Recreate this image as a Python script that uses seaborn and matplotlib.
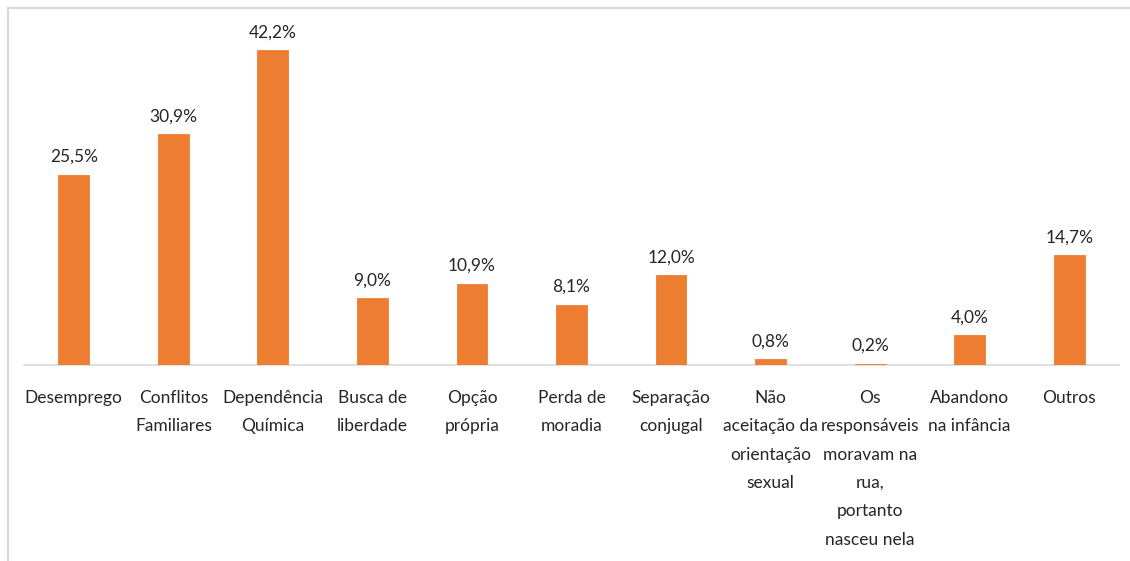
import matplotlib
matplotlib.use("Agg")
import matplotlib.pyplot as plt
import seaborn as sns
import pandas as pd
from matplotlib.lines import Line2D

categories = [
    "Desemprego",
    "Conflitos\nFamiliares",
    "Dependência\nQuímica",
    "Busca de\nliberdade",
    "Opção\nprópria",
    "Perda de\nmoradia",
    "Separação\nconjugal",
    "Não\naceitação da\norientação\nsexual",
    "Os\nresponsáveis\nmoravam na\nrua,\nportanto\nnasceu nela",
    "Abandono\nna infância",
    "Outros",
]
values = [25.5, 30.9, 42.2, 9.0, 10.9, 8.1, 12.0, 0.8, 0.2, 4.0, 14.7]
value_labels = ["25,5%", "30,9%", "42,2%", "9,0%", "10,9%", "8,1%",
                "12,0%", "0,8%", "0,2%", "4,0%", "14,7%"]

df = pd.DataFrame({"motivo": categories, "pct": values})

sns.set_theme(style="white")
plt.rcParams["font.family"] = ["Lato", "DejaVu Sans"]

W, H = 1130, 561
fig = plt.figure(figsize=(W / 100, H / 100), dpi=100)
base_y = 365
px_per_unit = 7.46
ymax = 45
top_px = base_y - ymax * px_per_unit
ax = fig.add_axes([24 / W, 1 - base_y / H, (1119 - 24) / W, (base_y - top_px) / H])

sns.barplot(data=df, x="motivo", y="pct", color="#ED7D31", width=0.31,
            saturation=1, edgecolor="#ED7D31", linewidth=0.6, ax=ax)
ax.set_ylim(0, ymax)
ax.set_xlim(-0.5, len(categories) - 0.5)

for i, (v, lab) in enumerate(zip(values, value_labels)):
    ax.annotate(lab, (i, v), xytext=(0, 7), textcoords="offset points",
                ha="center", va="bottom", fontsize=12.5, color="#262626",
                annotation_clip=False)

for s in ["top", "right", "left"]:
    ax.spines[s].set_visible(False)
ax.spines["bottom"].set_color("#D9D9D9")
ax.spines["bottom"].set_linewidth(1.2)
ax.spines["bottom"].set_zorder(0)
ax.set_yticks([])
ax.set_xlabel("")
ax.set_ylabel("")
ax.tick_params(axis="x", length=0, pad=18)
for t in ax.get_xticklabels():
    t.set_fontsize(12.5)
    t.set_color("#262626")
    t.set_linespacing(1.95)
    t.set_ha("center")
    t.set_va("top")

# outer frame lines (top and left)
fig.add_artist(Line2D([8 / W, 1], [1 - 8 / H, 1 - 8 / H], color="#D9D9D9",
                      lw=1.5, transform=fig.transFigure))
fig.add_artist(Line2D([8 / W, 8 / W], [0, 1 - 8 / H], color="#D9D9D9",
                      lw=1.5, transform=fig.transFigure))

fig.savefig("out.png", dpi=100, facecolor="white")
